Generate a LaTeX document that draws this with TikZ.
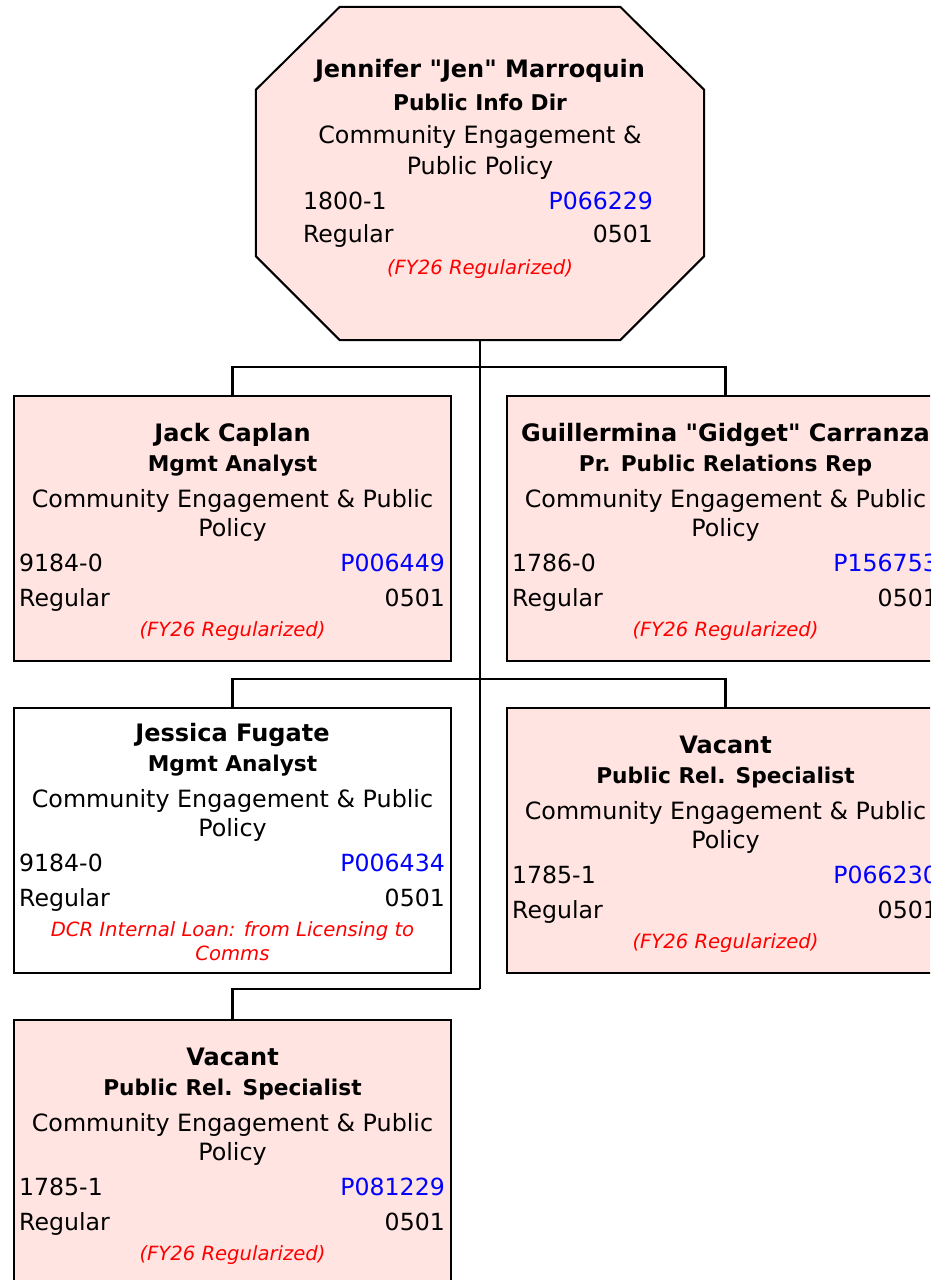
\documentclass[tikz,border=0pt]{standalone}
\usepackage{fontspec}
\setmainfont{DejaVu Sans}[Ligatures=TeXOff]
\usetikzlibrary{calc,positioning}
\definecolor{cardpink}{RGB}{255,228,225}
\definecolor{posblue}{RGB}{0,0,255}
\definecolor{notered}{RGB}{255,0,0}
\tikzset{
    % Card frame styles
    card/.style={
        rectangle, draw=black, line width=2pt, fill=cardpink,
        minimum width=437pt, minimum height=265pt, inner sep=0pt
    },
    dirbox/.style={
        rectangle, minimum width=448pt, minimum height=333pt, inner sep=0pt
    },
    dirframe/.style={draw=black, line width=2pt, fill=cardpink},
    link/.style={draw=black, line width=2.5pt},
    % Card text styles
    namelbl/.style={anchor=base, inner sep=0pt, font=\fontsize{24}{29}\selectfont\bfseries},
    titlelbl/.style={anchor=base, inner sep=0pt, font=\fontsize{21.7}{26}\selectfont\bfseries},
    deptlbl/.style={anchor=base, inner sep=0pt, font=\fontsize{23.8}{28}\selectfont},
    leftlbl/.style={anchor=base west, inner sep=0pt, font=\fontsize{23.6}{28}\selectfont},
    rightlbl/.style={anchor=base east, inner sep=0pt, font=\fontsize{23.6}{28}\selectfont},
    notelbl/.style={anchor=base, inner sep=0pt, text=notered, font=\fontsize{19.6}{23}\selectfont\itshape}
}
% card text: box, name, title, class code, position, note, vertical shift
\newcommand{\staffcard}[7]{%
    \node[namelbl] (#1-name) at ($(#1.north)+(0,#7+46)$) {#2};
    \node[titlelbl] (#1-title) at ($(#1.north)+(0,#7+76)$) {#3};
    \node[deptlbl] (#1-dept) at ($(#1.north)+(0,#7+112)$) {Community Engagement \& Public};
    \node[deptlbl] (#1-dept2) at ($(#1.north)+(0,#7+141)$) {Policy};
    \node[leftlbl] (#1-code) at ($(#1.north west)+(6,#7+176)$) {#4};
    \node[rightlbl, text=posblue] (#1-pos) at ($(#1.north east)+(-7,#7+176)$) {#5};
    \node[leftlbl] (#1-type) at ($(#1.north west)+(6,#7+211)$) {Regular};
    \node[rightlbl] (#1-fund) at ($(#1.north east)+(-7,#7+211)$) {0501};
    \node[notelbl] (#1-note) at ($(#1.north)+(0,#7+241)$) {#6};
}

\begin{document}
\begin{tikzpicture}[x=1pt, y=-1pt]
\useasboundingbox (0,0) rectangle (930,1280);
\clip (0,0) rectangle (930,1280);

% Director card
\node[dirbox] (director) at (480,173.5) {};
\draw[dirframe] ($(director.north west)+(84,0)$) -- ($(director.north east)+(-84,0)$)
    -- ($(director.north east)+(0,83)$) -- ($(director.south east)+(0,-84)$)
    -- ($(director.south east)+(-84,0)$) -- ($(director.south west)+(84,0)$)
    -- ($(director.south west)+(0,-84)$) -- ($(director.north west)+(0,83)$) -- cycle;
\node[namelbl] (director-name) at ($(director.north)+(0,71)$) {Jennifer "Jen" Marroquin};
\node[titlelbl] (director-title) at ($(director.north)+(0,104)$) {Public Info Dir};
\node[deptlbl] (director-dept) at ($(director.north)+(0,137)$) {Community Engagement \&};
\node[deptlbl] (director-dept2) at ($(director.north)+(0,168)$) {Public Policy};
\node[leftlbl] (director-code) at ($(director.north west)+(47,203)$) {1800-1};
\node[rightlbl, text=posblue] (director-pos) at ($(director.north east)+(-51,203)$) {P066229};
\node[leftlbl] (director-type) at ($(director.north west)+(47,236)$) {Regular};
\node[rightlbl] (director-fund) at ($(director.north east)+(-51,236)$) {0501};
\node[notelbl] (director-note) at ($(director.north)+(0,268)$) {(FY26 Regularized)};

% Staff cards
\node[card] (jack) at (232.5,528.5) {};
\node[card] (gidget) at (725.5,528.5) {};
\node[card, fill=white] (jessica) at (232.5,840.5) {};
\node[card] (vacantr) at (725.5,840.5) {};
\node[card] (vacantb) at (232.5,1152.5) {};

\staffcard{jack}{Jack Caplan}{Mgmt Analyst}{9184-0}{P006449}{(FY26 Regularized)}{0}
\staffcard{gidget}{Guillermina "Gidget" Carranza}{Pr. Public Relations Rep}{1786-0}{P156753}{(FY26 Regularized)}{0}
\staffcard{jessica}{Jessica Fugate}{Mgmt Analyst}{9184-0}{P006434}{DCR Internal Loan: from Licensing to}{-12}
\node[notelbl] (jessica-note2) at ($(jessica.north)+(0,253)$) {Comms};
\staffcard{vacantr}{Vacant}{Public Rel. Specialist}{1785-1}{P066230}{(FY26 Regularized)}{0}
\staffcard{vacantb}{Vacant}{Public Rel. Specialist}{1785-1}{P081229}{(FY26 Regularized)}{0}

% Reporting lines
\coordinate (j1) at ($(director.south |- jack.north)+(0,-28)$);
\coordinate (j2) at ($(director.south |- jessica.north)+(0,-28)$);
\coordinate (j3) at ($(director.south |- vacantb.north)+(0,-30)$);
\draw[link] (director.south) -- (j3);
\draw[link] (jack.north) |- (j1);
\draw[link] (gidget.north) |- (j1);
\draw[link] (jessica.north) |- (j2);
\draw[link] (vacantr.north) |- (j2);
\draw[link] (vacantb.north) |- (j3);

\end{tikzpicture}
\end{document}
